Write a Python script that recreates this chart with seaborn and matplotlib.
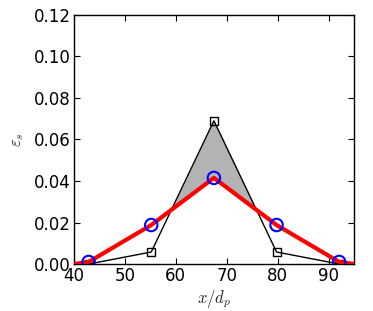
import numpy as np
import pandas as pd
import matplotlib
matplotlib.use("Agg")
import matplotlib.pyplot as plt
import seaborn as sns

# data
x_pts = [42.9, 55.2, 67.5, 79.8, 92.1]
red_y = [0.001, 0.0188, 0.0415, 0.0188, 0.001]
red_x_full = [40.0] + x_pts + [95.0]
red_y_full = [0.0] + red_y + [0.0]
black_y = [0.0, 0.0058, 0.069, 0.0058, 0.0]
xticks = [40, 50, 60, 70, 80, 90]
yticks = [0.00, 0.02, 0.04, 0.06, 0.08, 0.10, 0.12]

sns.set_style("white")
plt.rcParams['font.family'] = ['DejaVu Sans']
plt.rcParams['mathtext.fontset'] = 'cm'

fig = plt.figure(figsize=(3.73, 3.11), dpi=100)
ax = fig.add_axes([0.198, 0.151, 0.751, 0.801])

# gray fill between black and red where black is above
xf = np.linspace(x_pts[0], x_pts[-1], 500)
bf = np.interp(xf, x_pts, black_y)
rf = np.interp(xf, red_x_full, red_y_full)
ax.fill_between(xf, bf, rf, where=bf > rf, color='#b3b3b3', linewidth=0, zorder=1)

df_black = pd.DataFrame({'x': x_pts, 'y': black_y})
sns.lineplot(data=df_black, x='x', y='y', ax=ax, color='black', linewidth=1,
             marker='s', markersize=5.5, markerfacecolor='none',
             markeredgecolor='black', markeredgewidth=1, zorder=2, sort=False)

df_red = pd.DataFrame({'x': red_x_full, 'y': red_y_full})
sns.lineplot(data=df_red, x='x', y='y', ax=ax, color='red', linewidth=3,
             zorder=3, sort=False)

df_blue = pd.DataFrame({'x': x_pts, 'y': red_y})
sns.scatterplot(data=df_blue, x='x', y='y', ax=ax, marker='o', s=80,
                facecolor='none', edgecolor='blue', linewidth=1.5, zorder=4)

ax.set_xlim(40, 95)
ax.set_ylim(0, 0.12)
ax.set_xticks(xticks)
ax.set_yticks(yticks)
ax.set_xticklabels([str(t) for t in xticks])
ax.set_yticklabels([f"{t:.2f}" for t in yticks])
ax.tick_params(direction='in', length=4, width=0.8, labelsize=12,
               top=True, right=True, bottom=True, left=True, pad=2, colors='black')
for s in ax.spines.values():
    s.set_color('black')
    s.set_linewidth(1)
ax.set_xlabel(r'$x/d_p$', fontsize=12, labelpad=2)
ax.set_ylabel(r'$\varepsilon_s$', fontsize=12, labelpad=6)

fig.savefig('out.png', dpi=100)
